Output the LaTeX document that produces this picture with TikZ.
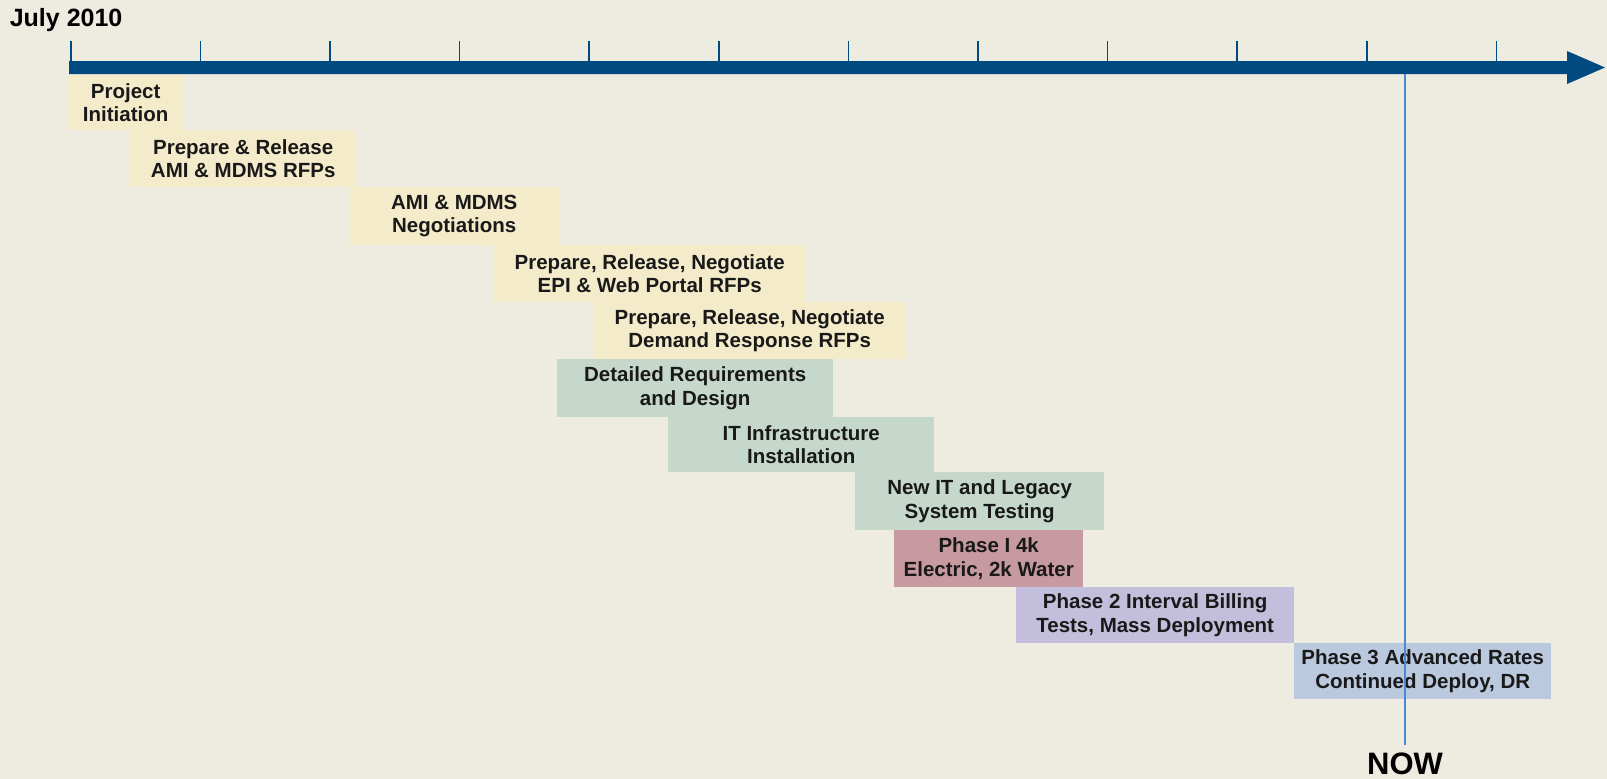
\documentclass[tikz,border=0pt]{standalone}
\usepackage{fontspec}
\setmainfont{Liberation Sans}
\definecolor{bg}{HTML}{EEEBE0}
\definecolor{baryc}{HTML}{004A82}
\definecolor{yelc}{HTML}{F4EBCB}
\definecolor{grnc}{HTML}{C6D8CC}
\definecolor{rosec}{HTML}{C79AA1}
\definecolor{lavc}{HTML}{C3BEDC}
\definecolor{bluec}{HTML}{BBC9DF}
\definecolor{nowc}{HTML}{4A88D6}
\tikzset{
  taskbox/.style={anchor=north west, inner sep=0pt, align=center,
    font=\fontsize{20.5}{23.3}\selectfont\bfseries, text=black!90},
  tickln/.style={draw=baryc, line width=1.6pt},
  nowln/.style={draw=nowc, line width=1.6pt},
}
\begin{document}
\begin{tikzpicture}[x=1pt,y=-1pt]
\fill[bg] (0,0) rectangle (1607,779);
\useasboundingbox (0,0) rectangle (1607,779);
% ticks
\foreach \k in {0,...,11}{
  \draw[tickln] ({70.8+\k*129.6},41) -- ({70.8+\k*129.6},62);
}
% timeline bar with arrow head
\fill[baryc] (69,61) -- (1567,61) -- (1567,51) -- (1605,67.5) -- (1567,84) -- (1567,74) -- (69,74) -- cycle;
\node[anchor=base west, inner sep=0pt, font=\fontsize{25}{28}\selectfont\bfseries] (july) at (9.6,26) {July 2010};
% tasks
\node[taskbox, fill=yelc, minimum width=115pt, minimum height=55pt] (init) at (68,75) {Project\\Initiation};
\node[taskbox, fill=yelc, minimum width=226pt, minimum height=57pt] (rfp) at (130,130) {Prepare \& Release\\AMI \& MDMS RFPs};
\node[taskbox, fill=yelc, minimum width=210pt, minimum height=58pt] (neg) at (349,187) {AMI \& MDMS\\Negotiations};
\node[taskbox, fill=yelc, minimum width=313pt, minimum height=57pt] (epi) at (493,245) {Prepare, Release, Negotiate\\EPI \& Web Portal RFPs};
\node[taskbox, fill=yelc, minimum width=311pt, minimum height=57pt] (dr) at (594,302) {Prepare, Release, Negotiate\\Demand Response RFPs};
\node[taskbox, fill=grnc, minimum width=276pt, minimum height=58pt] (design) at (557,359) {Detailed Requirements\\and Design};
\node[taskbox, fill=grnc, minimum width=266pt, minimum height=55pt] (infra) at (668,417) {IT Infrastructure\\Installation};
\node[taskbox, fill=grnc, minimum width=249pt, minimum height=58pt] (test) at (855,472) {New IT and Legacy\\System Testing};
\node[taskbox, fill=rosec, minimum width=189pt, minimum height=57pt] (p1) at (894,530) {Phase I 4k\\Electric, 2k Water};
\node[taskbox, fill=lavc, minimum width=278pt, minimum height=56pt] (p2) at (1016,587) {Phase 2 Interval Billing\\Tests, Mass Deployment};
\node[taskbox, fill=bluec, minimum width=257pt, minimum height=56pt] (p3) at (1294,643) {Phase 3 Advanced Rates\\Continued Deploy, DR};
% now marker
\coordinate (nowtop) at (1405,74);
\coordinate (nowbot) at (1405,745);
\node[anchor=base, inner sep=0pt, font=\fontsize{31}{35}\selectfont\bfseries] (now) at (1405,774) {NOW};
\draw[nowln] (nowtop) -- (nowbot);
\end{tikzpicture}
\end{document}
